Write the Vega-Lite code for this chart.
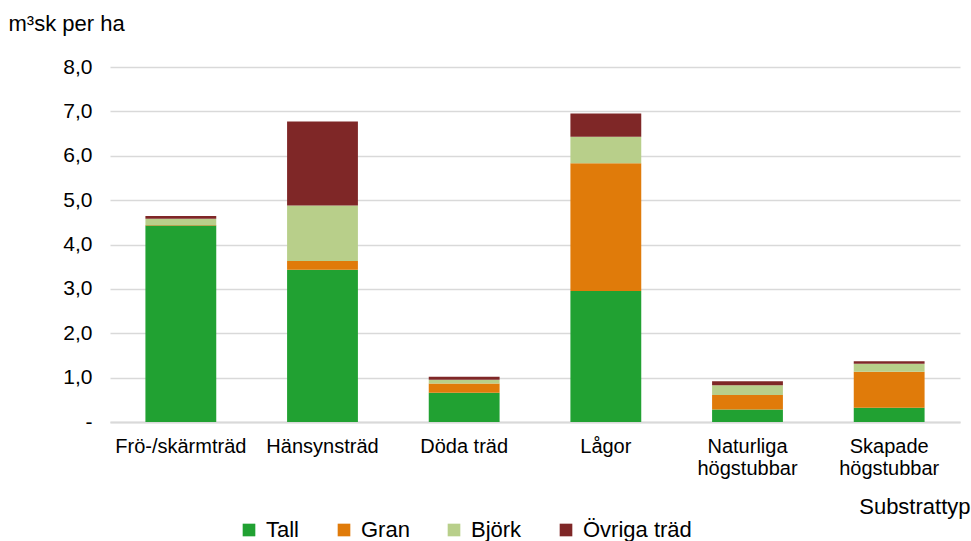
{
  "$schema": "https://vega.github.io/schema/vega-lite/v6.json",
  "width": 850,
  "height": 355,
  "autosize": {"type": "none"},
  "padding": {"left": 110, "top": 67, "right": 11, "bottom": 119},
  "background": "white",
  "config": {
    "font": "Liberation Sans",
    "view": {"stroke": null}
  },
  "data": {
    "values": [
      {"typ": "Frö-/skärmträd", "art": "Tall", "n": 1, "v": 4.43},
      {"typ": "Frö-/skärmträd", "art": "Gran", "n": 2, "v": 0.01},
      {"typ": "Frö-/skärmträd", "art": "Björk", "n": 3, "v": 0.14},
      {"typ": "Frö-/skärmträd", "art": "Övriga träd", "n": 4, "v": 0.06},
      {"typ": "Hänsynsträd", "art": "Tall", "n": 1, "v": 3.43},
      {"typ": "Hänsynsträd", "art": "Gran", "n": 2, "v": 0.2},
      {"typ": "Hänsynsträd", "art": "Björk", "n": 3, "v": 1.25},
      {"typ": "Hänsynsträd", "art": "Övriga träd", "n": 4, "v": 1.89},
      {"typ": "Döda träd", "art": "Tall", "n": 1, "v": 0.66},
      {"typ": "Döda träd", "art": "Gran", "n": 2, "v": 0.21},
      {"typ": "Döda träd", "art": "Björk", "n": 3, "v": 0.08},
      {"typ": "Döda träd", "art": "Övriga träd", "n": 4, "v": 0.07},
      {"typ": "Lågor", "art": "Tall", "n": 1, "v": 2.95},
      {"typ": "Lågor", "art": "Gran", "n": 2, "v": 2.88},
      {"typ": "Lågor", "art": "Björk", "n": 3, "v": 0.6},
      {"typ": "Lågor", "art": "Övriga träd", "n": 4, "v": 0.52},
      {"typ": "Naturliga högstubbar", "art": "Tall", "n": 1, "v": 0.28},
      {"typ": "Naturliga högstubbar", "art": "Gran", "n": 2, "v": 0.33},
      {"typ": "Naturliga högstubbar", "art": "Björk", "n": 3, "v": 0.22},
      {"typ": "Naturliga högstubbar", "art": "Övriga träd", "n": 4, "v": 0.09},
      {"typ": "Skapade högstubbar", "art": "Tall", "n": 1, "v": 0.32},
      {"typ": "Skapade högstubbar", "art": "Gran", "n": 2, "v": 0.81},
      {"typ": "Skapade högstubbar", "art": "Björk", "n": 3, "v": 0.18},
      {"typ": "Skapade högstubbar", "art": "Övriga träd", "n": 4, "v": 0.06}
    ]
  },
  "mark": {"type": "bar"},
  "encoding": {
    "x": {
      "field": "typ",
      "type": "nominal",
      "sort": ["Frö-/skärmträd", "Hänsynsträd", "Döda träd", "Lågor", "Naturliga högstubbar", "Skapade högstubbar"],
      "scale": {"paddingInner": 0.5, "paddingOuter": 0.25},
      "axis": {
        "title": "Substrattyp",
        "titleFont": "Liberation Sans",
        "titleFontSize": 22,
        "titleFontWeight": "normal",
        "titleColor": "#000000",
        "titleAnchor": "end",
        "titleAlign": "right",
        "titleBaseline": "alphabetic",
        "titleX": 860,
        "titleY": 91,
        "labelAngle": 0,
        "labelFontSize": 20,
        "labelColor": "#000000",
        "labelPadding": 14,
        "labelLineHeight": 22,
        "labelExpr": "datum.label == 'Naturliga högstubbar' ? ['Naturliga', 'högstubbar'] : datum.label == 'Skapade högstubbar' ? ['Skapade', 'högstubbar'] : datum.label",
        "ticks": false,
        "domainColor": "#d9d9d9",
        "domainWidth": 2
      }
    },
    "y": {
      "field": "v",
      "type": "quantitative",
      "aggregate": "sum",
      "stack": "zero",
      "scale": {"domain": [0, 8], "nice": false},
      "axis": {
        "title": "m³sk per ha",
        "titleAngle": 0,
        "titleFont": "Liberation Sans",
        "titleFontSize": 22,
        "titleFontWeight": "normal",
        "titleColor": "#000000",
        "titleAlign": "left",
        "titleBaseline": "alphabetic",
        "titleX": -102,
        "titleY": -37,
        "values": [0, 1, 2, 3, 4, 5, 6, 7, 8],
        "labelExpr": "datum.value == 0 ? '-' : replace(format(datum.value, '.1f'), '.', ',')",
        "labelFontSize": 21,
        "labelColor": "#000000",
        "labelPadding": 18,
        "ticks": false,
        "domain": false,
        "gridColor": "#d9d9d9",
        "gridWidth": 1.5
      }
    },
    "color": {
      "field": "art",
      "type": "nominal",
      "sort": ["Tall", "Gran", "Björk", "Övriga träd"],
      "scale": {
        "domain": ["Tall", "Gran", "Björk", "Övriga träd"],
        "range": ["#21a132", "#e07b0a", "#b8cf8a", "#7f2727"]
      },
      "legend": {
        "title": null,
        "orient": "none",
        "direction": "horizontal",
        "legendX": 128,
        "legendY": 452,
        "symbolType": "square",
        "symbolSize": 160,
        "symbolStrokeWidth": 0,
        "labelFontSize": 22,
        "labelColor": "#000000",
        "labelOffset": 6,
        "columnPadding": 33
      }
    },
    "order": {"field": "n", "type": "quantitative", "aggregate": "min"}
  }
}
